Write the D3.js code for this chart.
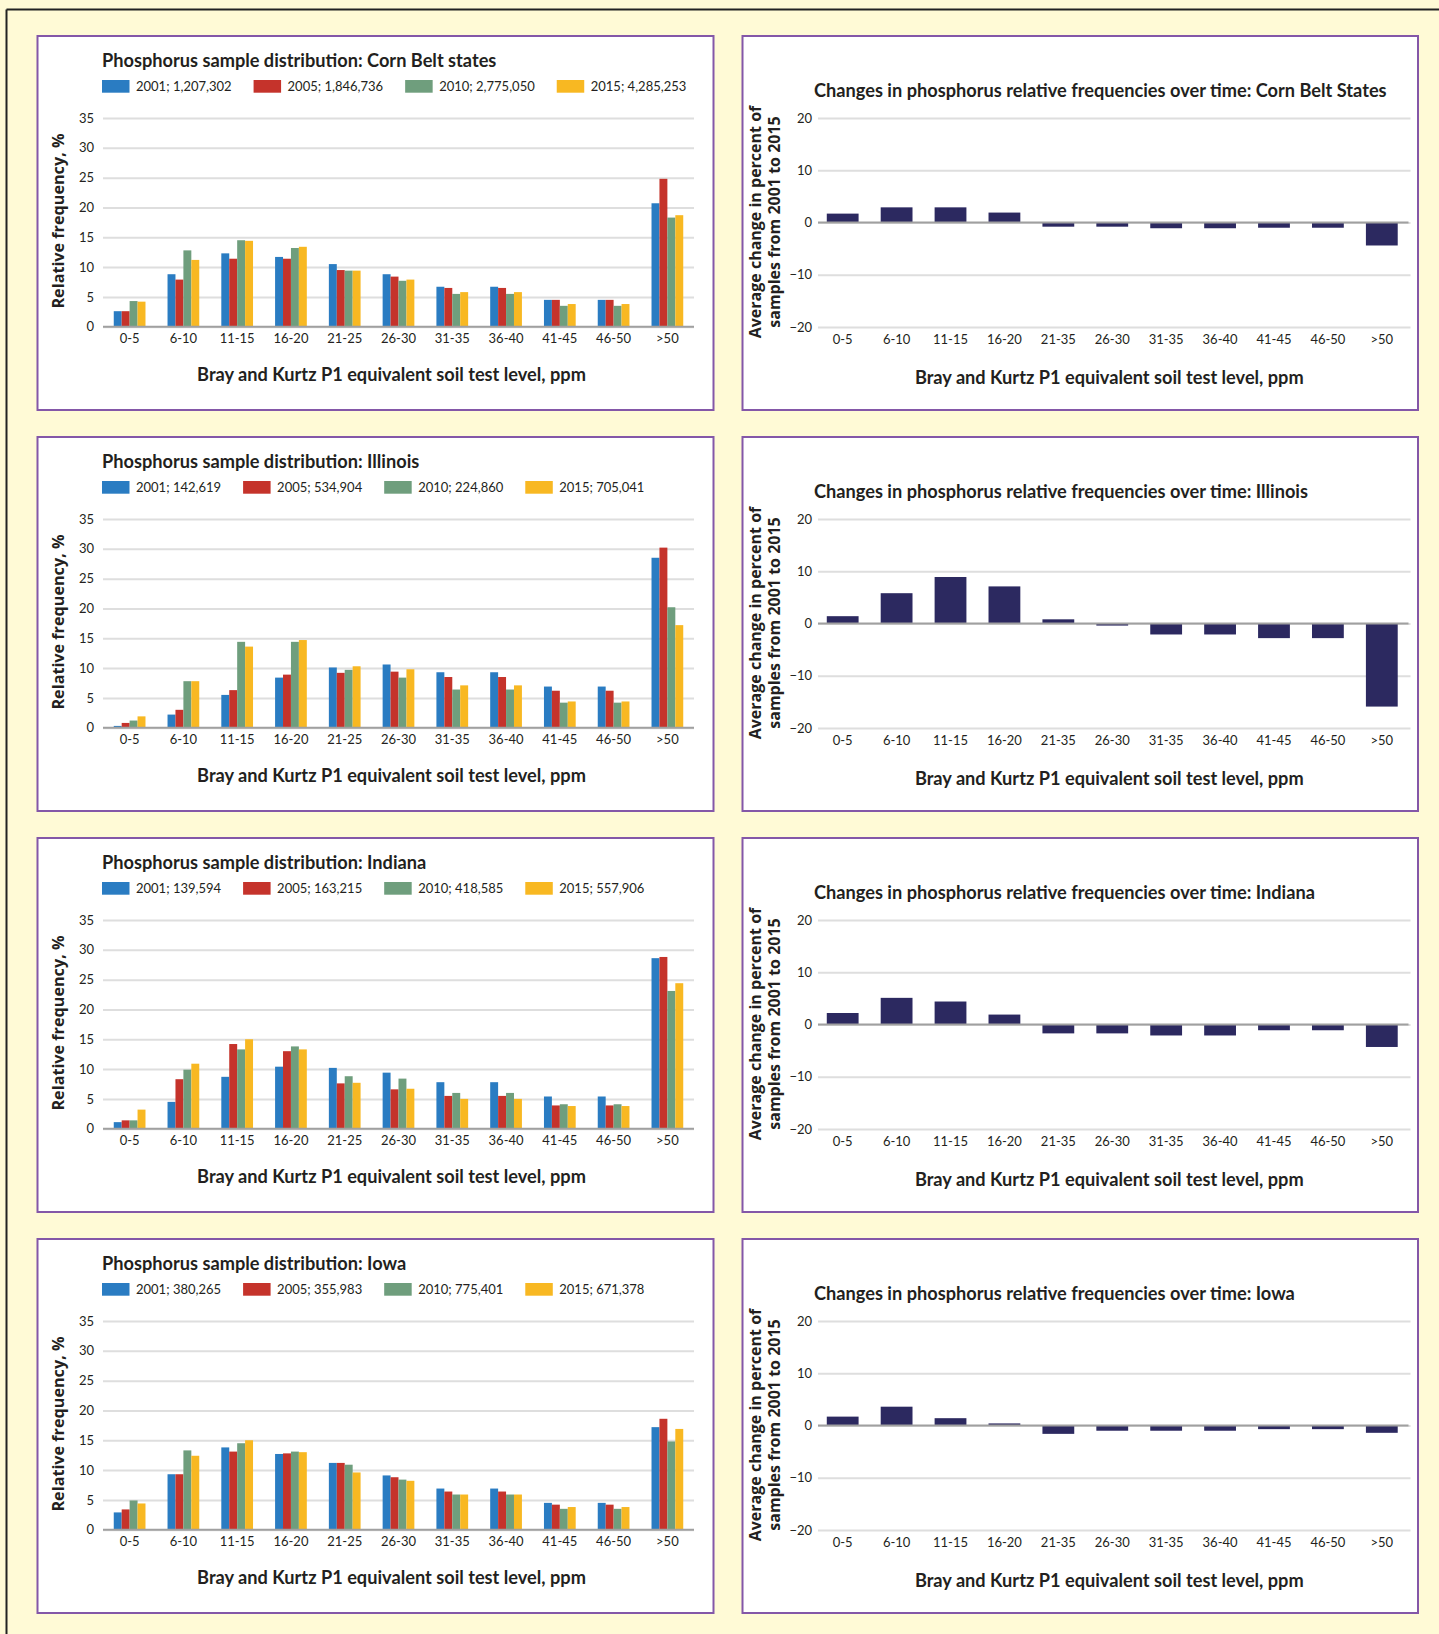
<!DOCTYPE html>
<html>
<head>
<meta charset="utf-8">
<script src="https://cdn.jsdelivr.net/npm/d3@7"></script>
<style>
  html, body { margin: 0; padding: 0; background: #fffad6; }
  svg { display: block; }
  text { font-family: Lato, "Open Sans", sans-serif; fill: #231f20; }
</style>
</head>
<body>
<svg id="page" width="1439" height="1634"></svg>
<script>
// --- data ---
const categories = ["0-5", "6-10", "11-15", "16-20", "21-25", "26-30", "31-35", "36-40", "41-45", "46-50", ">50"];
// the change charts label the 5th bin "21-35" in the original
const changeCategories = ["0-5", "6-10", "11-15", "16-20", "21-35", "26-30", "31-35", "36-40", "41-45", "46-50", ">50"];
const years = ["2001", "2005", "2010", "2015"];
const freqTicks = [0, 5, 10, 15, 20, 25, 30, 35];
const changeTicks = [-20, -10, 0, 10, 20];

const cornBeltCounts = ["1,207,302", "1,846,736", "2,775,050", "4,285,253"];
const cornBeltFreq = [
  [2.6, 8.8, 12.3, 11.7, 10.5, 8.8, 6.7, 6.7, 4.5, 4.5, 20.7],
  [2.6, 7.9, 11.4, 11.4, 9.5, 8.4, 6.5, 6.5, 4.5, 4.5, 24.8],
  [4.3, 12.8, 14.5, 13.2, 9.4, 7.7, 5.5, 5.5, 3.5, 3.5, 18.3],
  [4.2, 11.2, 14.4, 13.4, 9.4, 7.9, 5.8, 5.8, 3.8, 3.8, 18.7]
];
const cornBeltChange = [1.7, 2.9, 2.9, 1.9, -0.8, -0.8, -1.1, -1.1, -1.0, -1.0, -4.4];

const illinoisCounts = ["142,619", "534,904", "224,860", "705,041"];
const illinoisFreq = [
  [0.3, 2.2, 5.5, 8.4, 10.1, 10.6, 9.3, 9.3, 6.9, 6.9, 28.5],
  [0.8, 3.0, 6.3, 8.9, 9.2, 9.4, 8.5, 8.5, 6.2, 6.2, 30.2],
  [1.2, 7.8, 14.4, 14.4, 9.7, 8.4, 6.4, 6.4, 4.2, 4.2, 20.2],
  [1.9, 7.8, 13.6, 14.7, 10.3, 9.8, 7.1, 7.1, 4.4, 4.4, 17.2]
];
const illinoisChange = [1.4, 5.8, 8.9, 7.1, 0.8, -0.4, -2.1, -2.1, -2.8, -2.8, -15.9];

const indianaCounts = ["139,594", "163,215", "418,585", "557,906"];
const indianaFreq = [
  [1.1, 4.5, 8.7, 10.4, 10.2, 9.4, 7.8, 7.8, 5.4, 5.4, 28.6],
  [1.4, 8.3, 14.2, 13.0, 7.6, 6.6, 5.5, 5.5, 3.9, 3.9, 28.8],
  [1.4, 9.9, 13.3, 13.8, 8.8, 8.4, 6.0, 6.0, 4.1, 4.1, 23.1],
  [3.2, 10.9, 15.0, 13.3, 7.7, 6.7, 5.0, 5.0, 3.8, 3.8, 24.4]
];
const indianaChange = [2.2, 5.1, 4.4, 1.9, -1.7, -1.7, -2.1, -2.1, -1.1, -1.1, -4.3];

const iowaCounts = ["380,265", "355,983", "775,401", "671,378"];
const iowaFreq = [
  [2.9, 9.3, 13.8, 12.7, 11.2, 9.1, 6.9, 6.9, 4.5, 4.5, 17.2],
  [3.4, 9.3, 13.1, 12.8, 11.2, 8.8, 6.4, 6.4, 4.2, 4.2, 18.6],
  [4.9, 13.3, 14.5, 13.1, 10.9, 8.4, 5.9, 5.9, 3.5, 3.5, 14.8],
  [4.4, 12.4, 15.0, 13.0, 9.6, 8.2, 5.9, 5.9, 3.8, 3.8, 16.9]
];
const iowaChange = [1.7, 3.6, 1.4, 0.4, -1.6, -1.0, -1.0, -1.0, -0.7, -0.7, -1.4];

const regions = [
  { distTitle: "Corn Belt states", changeTitle: "Corn Belt States", counts: cornBeltCounts, freq: cornBeltFreq, change: cornBeltChange },
  { distTitle: "Illinois", changeTitle: "Illinois", counts: illinoisCounts, freq: illinoisFreq, change: illinoisChange },
  { distTitle: "Indiana", changeTitle: "Indiana", counts: indianaCounts, freq: indianaFreq, change: indianaChange },
  { distTitle: "Iowa", changeTitle: "Iowa", counts: iowaCounts, freq: iowaFreq, change: iowaChange }
];

// --- styling / layout ---
const yearColors = ["#2a7cc2", "#c5332b", "#6f9e7d", "#f8b822"];
const navy = "#2c2960";
const gridColor = "#dedede";
const baseColor = "#a0a0a0";
const frameColor = "#8457a8";

const panelH = 374;
const rowTop = (i) => 36 + i * 401;
const leftPanel = { x: 37.5, w: 676 };
const rightPanel = { x: 742.5, w: 675.5 };

const svg = d3.select("#page");

// page frame (black rule at top and left)
svg.append("line").attr("x1", 6.5).attr("y1", 9.5).attr("x2", 1439).attr("y2", 9.5)
  .attr("stroke", "#222").attr("stroke-width", 2);
svg.append("line").attr("x1", 6.5).attr("y1", 9.5).attr("x2", 6.5).attr("y2", 1634)
  .attr("stroke", "#222").attr("stroke-width", 2);

function panel(x, y, w) {
  const g = svg.append("g").attr("transform", `translate(${x},${y})`);
  g.append("rect")
    .attr("width", w).attr("height", panelH)
    .attr("fill", "#fff")
    .attr("stroke", frameColor)
    .attr("stroke-width", 2);
  return g;
}

function styleAxisText(axisG) {
  axisG.select(".domain").remove();
  axisG.selectAll("text")
    .style("font-family", "Lato, sans-serif")
    .style("font-size", "13px")
    .attr("fill", "#2b2b2b");
}

function drawDistribution(g, region) {
  const x = d3.scaleBand().domain(categories).range([65.5, 656.5]).paddingInner(0.41).paddingOuter(0.2);
  const xs = d3.scaleBand().domain(years).range([0, x.bandwidth()]);
  const y = d3.scaleLinear().domain([0, 35]).range([290.7, 82]);

  // title
  g.append("text").attr("x", 64.5).attr("y", 30.7)
    .style("font-size", "18.2px").style("font-weight", 700)
    .text(`Phosphorus sample distribution: ${region.distTitle}`);

  // legend
  let lx = 64.5;
  years.forEach((yr, i) => {
    g.append("rect").attr("x", lx).attr("y", 44).attr("width", 27.5).attr("height", 12.7)
      .attr("fill", yearColors[i]);
    const t = g.append("text").attr("x", lx + 34).attr("y", 54.7)
      .style("font-size", "13px")
      .text(`${yr}; ${region.counts[i]}`);
    lx += 34 + t.node().getComputedTextLength() + 22;
  });

  // grid + y ticks
  const yAxis = g.append("g").attr("transform", `translate(${x.range()[0]},0)`)
    .call(d3.axisLeft(y).tickValues(freqTicks).tickSize(-(x.range()[1] - x.range()[0])).tickPadding(9));
  yAxis.selectAll("line").attr("stroke", gridColor).attr("stroke-width", 2);
  styleAxisText(yAxis);

  // bars
  const groups = g.append("g").selectAll("g").data(categories).join("g")
    .attr("transform", (c) => `translate(${x(c)},0)`);
  groups.selectAll("rect")
    .data((c, ci) => years.map((yr, yi) => ({ yr, yi, v: region.freq[yi][ci] })))
    .join("rect")
    .attr("x", (d) => xs(d.yr))
    .attr("width", xs.bandwidth())
    .attr("y", (d) => y(d.v))
    .attr("height", (d) => y(0) - y(d.v))
    .attr("fill", (d) => yearColors[d.yi]);

  // baseline
  g.append("line").attr("x1", x.range()[0]).attr("x2", x.range()[1])
    .attr("y1", y(0)).attr("y2", y(0)).attr("stroke", baseColor).attr("stroke-width", 2);

  // x ticks
  const xAxis = g.append("g").attr("transform", `translate(0,${y(0)})`)
    .call(d3.axisBottom(x).tickSize(0).tickPadding(7.5));
  styleAxisText(xAxis);

  // axis titles
  g.append("text").attr("x", 354).attr("y", 345).attr("text-anchor", "middle")
    .style("font-size", "18.2px").style("font-weight", 700)
    .text("Bray and Kurtz P1 equivalent soil test level, ppm");
  g.append("text").attr("transform", "translate(26,185) rotate(-90)").attr("text-anchor", "middle")
    .style("font-family", "'Open Sans', sans-serif").style("font-size", "16.2px").style("font-weight", 700)
    .text("Relative frequency, %");
}

function drawChange(g, region) {
  const x = d3.scaleBand().domain(changeCategories).range([73.5, 666]).paddingInner(0.41).paddingOuter(0.2);
  const y = d3.scaleLinear().domain([-20, 20]).range([291, 82]);

  g.append("text").attr("x", 71.5).attr("y", 60.7)
    .style("font-size", "18.2px").style("font-weight", 700)
    .text(`Changes in phosphorus relative frequencies over time: ${region.changeTitle}`);

  const yAxis = g.append("g").attr("transform", `translate(${x.range()[0] + 2},0)`)
    .call(d3.axisLeft(y).tickValues(changeTicks).tickSize(-(x.range()[1] - x.range()[0])).tickPadding(6));
  yAxis.selectAll("line").attr("stroke", gridColor).attr("stroke-width", 2);
  styleAxisText(yAxis);

  g.append("g").selectAll("rect").data(changeCategories).join("rect")
    .attr("x", (c) => x(c))
    .attr("width", x.bandwidth())
    .attr("y", (c, i) => y(Math.max(0, region.change[i])))
    .attr("height", (c, i) => Math.abs(y(region.change[i]) - y(0)))
    .attr("fill", navy);

  g.append("line").attr("x1", x.range()[0] + 2).attr("x2", x.range()[1])
    .attr("y1", y(0)).attr("y2", y(0)).attr("stroke", baseColor).attr("stroke-width", 2);

  const xAxis = g.append("g").attr("transform", `translate(0,${y(-20)})`)
    .call(d3.axisBottom(x).tickSize(0).tickPadding(7.5));
  styleAxisText(xAxis);

  g.append("text").attr("x", 366.8).attr("y", 348).attr("text-anchor", "middle")
    .style("font-size", "18.2px").style("font-weight", 700)
    .text("Bray and Kurtz P1 equivalent soil test level, ppm");

  const ylab = g.append("text").attr("transform", "translate(0,186) rotate(-90)").attr("text-anchor", "middle")
    .style("font-family", "'Open Sans', sans-serif").style("font-size", "16px").style("font-weight", 700);
  ylab.append("tspan").attr("x", 0).attr("y", 18).text("Average change in percent of");
  ylab.append("tspan").attr("x", 0).attr("y", 37).text("samples from 2001 to 2015");
}

regions.forEach((region, i) => {
  drawDistribution(panel(leftPanel.x, rowTop(i), leftPanel.w), region);
  drawChange(panel(rightPanel.x, rowTop(i), rightPanel.w), region);
});
</script>
</body>
</html>
